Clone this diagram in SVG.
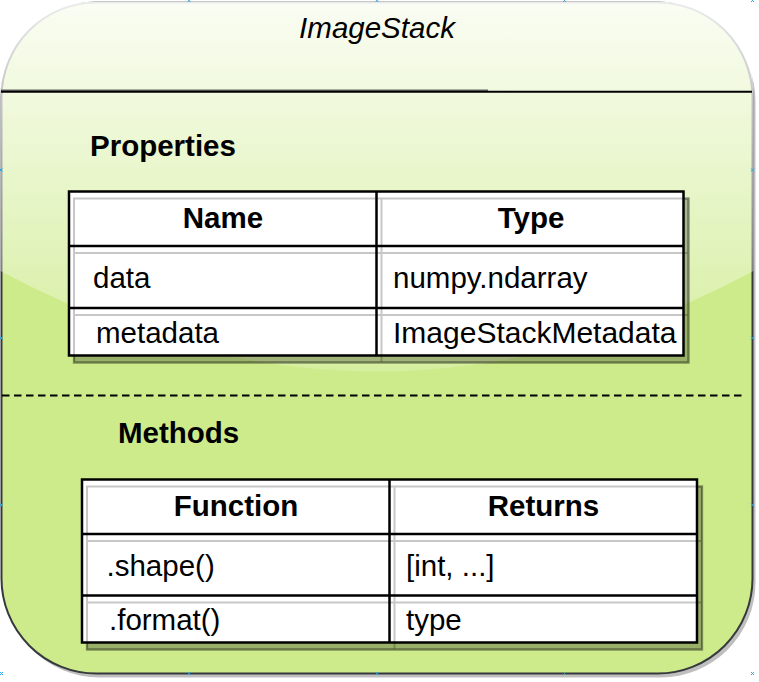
<svg xmlns="http://www.w3.org/2000/svg" width="759" height="682" viewBox="0 0 759 682">
  <style>
    .t { font-family: "Liberation Sans", Arial, sans-serif; font-size: 29.5px; fill: #000; }
    .b { font-weight: bold; }
    .c { text-anchor: middle; }
    .grid { fill: none; stroke: #000; stroke-width: 2.5; }
    .gshadow { fill: none; stroke: #000; stroke-opacity: 0.22; stroke-width: 2; }
    .tshadow { fill: #000; fill-opacity: 0.25; stroke: #000; stroke-opacity: 0.25; stroke-width: 2.5; }
    .tbg { fill: #fff; }
    .mark { stroke: #29a8e6; stroke-width: 1; fill: none; }
  </style>
  <defs>
    <linearGradient id="glass" gradientUnits="userSpaceOnUse" x1="0" y1="2.5" x2="0" y2="405">
      <stop offset="0" stop-color="#ffffff" stop-opacity="0.9"/>
      <stop offset="1" stop-color="#ffffff" stop-opacity="0.1"/>
    </linearGradient>
  </defs>

  <g id="imagestack">
    <rect x="4.5" y="6.5" width="751" height="671" rx="95" ry="95" fill="#000" fill-opacity="0.25"/>
    <rect x="1.5" y="2.5" width="751" height="671" rx="95" ry="95" fill="#cdeb8b" stroke="#36393d" stroke-width="2"/>
    <path d="M97.5,1.5 Q0.5,1.5 0.5,98.5 L0.5,270.9 Q377,472.2 753.5,270.9 L753.5,98.5 Q753.5,1.5 656.5,1.5 Z" fill="url(#glass)"/>
    <text class="t c" x="377" y="38" font-style="italic">ImageStack</text>
    <line x1="1" y1="90.3" x2="488" y2="90.3" stroke="#666" stroke-width="1.5"/>
    <line x1="1" y1="91.7" x2="752" y2="91.7" stroke="#000" stroke-width="2"/>
    <line x1="2" y1="395.5" x2="746" y2="395.5" stroke="#000" stroke-width="2" stroke-dasharray="7.5 4.5"/>
    <g class="mark">
      <path d="M187.5,-1 l3,3 m0,-3 l-3,3 M375.5,-1 l3,3 m0,-3 l-3,3 M563,-1 l3,3 m0,-3 l-3,3 M751,-1 l3,3 m0,-3 l-3,3"/>
      <path d="M187.5,672 l3,3 m0,-3 l-3,3 M375.5,672 l3,3 m0,-3 l-3,3 M563,672 l3,3 m0,-3 l-3,3 M751,672 l3,3 m0,-3 l-3,3 M0,672 l3,3 m0,-3 l-3,3"/>
      <path d="M-0.5,168.5 l3,3 m0,-3 l-3,3 M-0.5,336.5 l3,3 m0,-3 l-3,3 M-0.5,503.5 l3,3 m0,-3 l-3,3"/>
      <path d="M751,168.5 l3,3 m0,-3 l-3,3 M751,336.5 l3,3 m0,-3 l-3,3 M751,503.5 l3,3 m0,-3 l-3,3"/>
    </g>
  </g>

  <g id="properties-label">
    <text class="t b" x="90" y="156">Properties</text>
  </g>

  <g id="properties-table">
    <rect class="tshadow" x="74" y="198.5" width="614.5" height="164"/>
    <rect class="tbg" x="69" y="191.5" width="614.5" height="164"/>
    <path class="gshadow" transform="translate(5,7)" d="M69,191.5 H683.5 V355.5 H69 Z M376.5,191.5 V355.5 M69,246 H683.5 M69,308 H683.5"/>
    <path class="grid" d="M69,191.5 H683.5 V355.5 H69 Z M376.5,191.5 V355.5 M69,246 H683.5 M69,308 H683.5"/>
    <text class="t b c" x="223" y="228">Name</text>
    <text class="t b c" x="531" y="228">Type</text>
    <text class="t" x="93" y="288">data</text>
    <text class="t" x="393" y="288">numpy.ndarray</text>
    <text class="t" x="96" y="343">metadata</text>
    <text class="t" x="393" y="343" style="font-size:30px">ImageStackMetadata</text>
  </g>

  <g id="methods-label">
    <text class="t b" x="118" y="443">Methods</text>
  </g>

  <g id="methods-table">
    <rect class="tshadow" x="87" y="486.5" width="615" height="163"/>
    <rect class="tbg" x="82" y="479.5" width="615" height="163"/>
    <path class="gshadow" transform="translate(5,7)" d="M82,479.5 H697 V642.5 H82 Z M389.5,479.5 V642.5 M82,534 H697 M82,595.5 H697"/>
    <path class="grid" d="M82,479.5 H697 V642.5 H82 Z M389.5,479.5 V642.5 M82,534 H697 M82,595.5 H697"/>
    <text class="t b c" x="236" y="516">Function</text>
    <text class="t b c" x="543.5" y="516">Returns</text>
    <text class="t" x="106.5" y="576">.shape()</text>
    <text class="t" x="406" y="576">[int, ...]</text>
    <text class="t" x="109" y="630">.format()</text>
    <text class="t" x="406" y="630">type</text>
  </g>

  <g id="connectors"/>
</svg>
